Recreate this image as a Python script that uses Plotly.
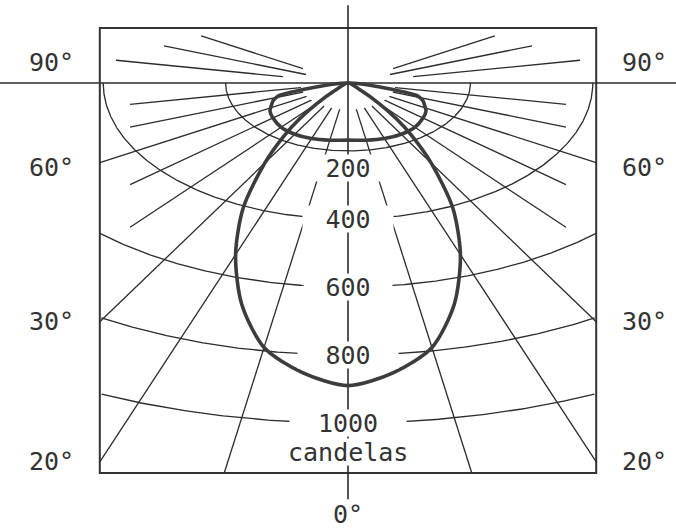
import numpy as np
import plotly.graph_objects as go

# iso-candela arcs and their labels
ARC_CD = [200, 400, 600, 800, 1000]
ARC_LABELS = ["200", "400", "600", "800", "1000"]

# radial lines (degrees from nadir)
LOWER_ANGLES = [10, 20, 30, 40, 50, 60, 70, 80]
LONG_ANGLES = [10, 20, 30, 60]          # these run out to the frame
UPPER_ANGLES = [100, 110, 120]
UPPER_START_CD = [108, 73, 85]
UPPER_END_CD = [385, 320, 277]

SIDE_ANGLES = [90, 60, 30, 20]
SIDE_LABELS = ["90°", "60°", "30°", "20°"]

# narrow main beam, candela vs angle (symmetric)
BEAM_ANGLE = [0, 5, 10, 15, 20, 25, 30, 34, 37, 40, 44, 48]
BEAM_CD = [890, 855, 790, 672, 537, 405, 272, 185, 130, 80, 30, 0]

# wide low lobe close to the lamp
SPREAD_ANGLE = [0, 10, 20, 30, 40, 50, 57, 62, 67, 70, 72, 75]
SPREAD_CD = [168, 171, 174, 174, 170, 160, 152, 142, 133, 125, 117, 0]

# drawing geometry
STRETCH = 1.8          # horizontal stretch of the diagram
PX_PER_CD = 0.34
ORIGIN_PX = (348, 83)
W, H = 676, 531
BOX_X = 730
BOX_TOP = 162
BOX_BOTTOM = -1147
INNER_X = 641          # short radial lines stop here
LINE_START_CD = 78
AXIS_TOP, AXIS_BOTTOM = 229, -1224

INK = "#2b2b2b"
FONT = dict(family="DejaVu Sans Mono, monospace", size=25, color="#333333")


def project(theta_deg, cd):
    t = np.radians(np.asarray(theta_deg, dtype=float))
    cd = np.asarray(cd, dtype=float)
    return STRETCH * cd * np.sin(t), -cd * np.cos(t)


def mirrored(angles, values):
    ang = [-a for a in angles[::-1]] + list(angles[1:])
    val = list(values[::-1]) + list(values[1:])
    return ang, val


fig = go.Figure()

# radial lines below the horizon
xs, ys = [], []
for a in LOWER_ANGLES:
    t = np.radians(a)
    if a in LONG_ANGLES:
        c_end = min(BOX_X / (STRETCH * np.sin(t)), -BOX_BOTTOM / np.cos(t))
    else:
        c_end = INNER_X / (STRETCH * np.sin(t))
    for s in (-1, 1):
        x, y = project([s * a, s * a], [LINE_START_CD, c_end])
        xs += list(x) + [None]
        ys += list(y) + [None]

# short radial lines above the horizon
for a, c0, c1 in zip(UPPER_ANGLES, UPPER_START_CD, UPPER_END_CD):
    for s in (-1, 1):
        x, y = project([s * a, s * a], [c0, c1])
        xs += list(x) + [None]
        ys += list(y) + [None]

fig.add_trace(go.Scatter(x=xs, y=ys, mode="lines",
                         line=dict(color=INK, width=1.3), hoverinfo="skip"))

# iso-candela arcs, clipped to the frame
theta = np.arange(-90, 90.25, 0.25)
for cd in ARC_CD:
    x, y = project(theta, np.full_like(theta, cd))
    inside = (np.abs(x) <= BOX_X) & (y >= BOX_BOTTOM)
    fig.add_trace(go.Scatter(
        x=np.where(inside, x, None), y=np.where(inside, y, None),
        mode="lines", line=dict(color=INK, width=1.3), hoverinfo="skip"))

# candela curves
for ang, val in ((BEAM_ANGLE, BEAM_CD), (SPREAD_ANGLE, SPREAD_CD)):
    a, v = mirrored(ang, val)
    x, y = project(a, v)
    fig.add_trace(go.Scatter(x=x, y=y, mode="lines",
                             line=dict(color="#3c3c3c", width=3.6,
                                       shape="spline", smoothing=0.8),
                             hoverinfo="skip"))

# frame and axes
frame = dict(color="#333333", width=2)
fig.add_shape(type="rect", x0=-BOX_X, x1=BOX_X, y0=BOX_BOTTOM, y1=BOX_TOP,
              line=frame, layer="below")
fig.add_shape(type="line", xref="paper", x0=0, x1=1, y0=0, y1=0,
              line=dict(color=INK, width=1.6), layer="below")
fig.add_shape(type="line", x0=0, x1=0, y0=AXIS_BOTTOM, y1=AXIS_TOP,
              line=dict(color=INK, width=1.6), layer="below")

# arc labels (white boxes open the arcs)
gap_px = [62, 88, 86, 98, 114]
for cd, txt, gw in zip(ARC_CD, ARC_LABELS, gap_px):
    fig.add_annotation(x=0, y=-cd, text=txt, showarrow=False, font=FONT,
                       bgcolor="white", width=gw, height=24,
                       yshift=-17 if cd == 200 else 0)
fig.add_annotation(x=0, y=-1085, text="candelas", showarrow=False, font=FONT,
                   bgcolor="white", height=24)
fig.add_annotation(x=0, y=AXIS_BOTTOM, text="0°", showarrow=False, font=FONT,
                   yshift=-15)

# angle labels at the sides of the frame
for a, txt in zip(SIDE_ANGLES, SIDE_LABELS):
    if a == 90:
        y, ysh = 0, 21
    else:
        y, ysh = -BOX_X / (STRETCH * np.tan(np.radians(a))), 0
        if a == 60:
            ysh = -5
    for s in (-1, 1):
        fig.add_annotation(x=s * BOX_X, y=y, text=txt, showarrow=False,
                           font=FONT, xshift=s * 48, yshift=ysh)

ox, oy = ORIGIN_PX
fig.update_layout(
    width=W, height=H,
    margin=dict(l=0, r=0, t=0, b=0),
    paper_bgcolor="white", plot_bgcolor="white",
    showlegend=False,
    xaxis=dict(visible=False, range=[-ox / PX_PER_CD, (W - ox) / PX_PER_CD],
               fixedrange=True),
    yaxis=dict(visible=False, range=[-(H - oy) / PX_PER_CD, oy / PX_PER_CD],
               fixedrange=True),
)

# drop the page's default body margin so the figure sits at the corner
fig.write_html("out.html", config={"displayModeBar": False},
               post_script="document.body.style.margin='0';")
